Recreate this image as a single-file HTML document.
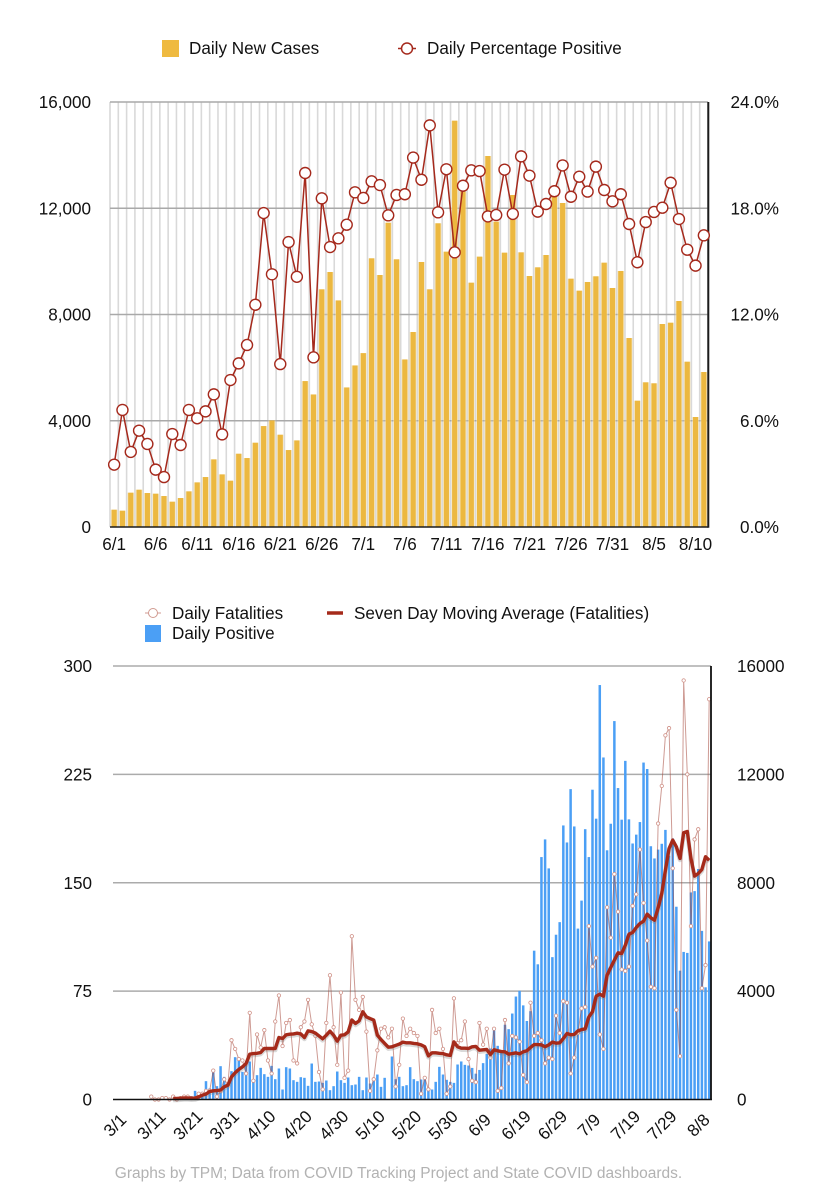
<!DOCTYPE html>
<html>
<head>
<meta charset="utf-8">
<title>COVID charts</title>
<style>
html,body{margin:0;padding:0;background:#fff;}
svg{display:block;font-family:"Liberation Sans",sans-serif;}
</style>
</head>
<body>
<svg id="chart" xmlns="http://www.w3.org/2000/svg" width="834" height="1200" viewBox="0 0 834 1200">
  <rect x="0" y="0" width="834" height="1200" fill="#ffffff"/>
  <g id="top-chart"></g>
  <g id="bottom-chart"></g>

  <g>
    <rect x="162" y="40" width="17" height="17" fill="#efba40"/>
    <text x="189" y="54" font-size="17.1" fill="#111">Daily New Cases</text>
    <line x1="398" y1="48.500" x2="416" y2="48.500" stroke="#a5291c" stroke-width="1.5"/>
    <circle cx="407" cy="48.500" r="5.500" fill="#fff" stroke="#a5291c" stroke-width="1.500"/>
    <text x="427" y="54" font-size="17.1" fill="#111">Daily Percentage Positive</text>
  </g>

  <g>
    <line x1="145" y1="613" x2="161" y2="613" stroke="#d09a90" stroke-width="1"/>
    <circle cx="153" cy="613" r="4.500" fill="#fff" stroke="#d09a90" stroke-width="1"/>
    <text x="172" y="619" font-size="17.1" fill="#111">Daily Fatalities</text>
    <rect x="145" y="625" width="16" height="17" fill="#4b9ff5"/>
    <text x="172" y="639" font-size="17.1" fill="#111">Daily Positive</text>
    <line x1="327" y1="613" x2="343" y2="613" stroke="#a52a1a" stroke-width="3.500"/>
    <text x="354" y="619" font-size="17.1" fill="#111">Seven Day Moving Average (Fatalities)</text>
  </g>

  <text x="398.500" y="1178" font-size="15.500" fill="#b2b2b2" text-anchor="middle">Graphs by TPM; Data from COVID Tracking Project and State COVID dashboards.</text>
</svg>

<script>
const topDates = ['6/1','6/2','6/3','6/4','6/5','6/6','6/7','6/8','6/9','6/10','6/11','6/12','6/13','6/14','6/15','6/16','6/17','6/18','6/19','6/20','6/21','6/22','6/23','6/24','6/25','6/26','6/27','6/28','6/29','6/30','7/1','7/2','7/3','7/4','7/5','7/6','7/7','7/8','7/9','7/10','7/11','7/12','7/13','7/14','7/15','7/16','7/17','7/18','7/19','7/20','7/21','7/22','7/23','7/24','7/25','7/26','7/27','7/28','7/29','7/30','7/31','8/1','8/2','8/3','8/4','8/5','8/6','8/7','8/8','8/9','8/10','8/11'];
const topCases = [652,614,1292,1404,1279,1254,1166,953,1091,1342,1680,1881,2546,1981,1743,2759,2596,3173,3800,4013,3474,2897,3260,5493,4990,8948,9600,8530,5254,6082,6546,10115,9487,11455,10078,6308,7341,9977,8948,11434,10365,15297,12624,9198,10178,13967,11496,10328,12499,10340,9449,9776,10240,12436,12198,9348,8897,9224,9438,9951,8998,9638,7115,4755,5447,5410,7642,7691,8508,6223,4141,5835];
const topPercent = [3.52,6.61,4.24,5.44,4.69,3.24,2.82,5.25,4.63,6.61,6.14,6.53,7.49,5.23,8.30,9.24,10.28,12.55,17.73,14.27,9.2,16.09,14.13,19.99,9.58,18.56,15.81,16.3,17.07,18.9,18.58,19.52,19.31,17.6,18.75,18.79,20.86,19.61,22.68,17.77,20.2,15.51,19.27,20.14,20.1,17.54,17.62,20.18,17.68,20.93,19.84,17.81,18.24,18.96,20.42,18.65,19.78,18.94,20.35,19.03,18.39,18.79,17.11,14.95,17.22,17.79,18.03,19.44,17.39,15.66,14.76,16.47];
const topLeftTicks = [0,4000,8000,12000,16000];
const topLeftTickLabels = ['0','4,000','8,000','12,000','16,000'];
const topRightTicks = [0,6,12,18,24];
const topRightTickLabels = ['0.0%','6.0%','12.0%','18.0%','24.0%'];
const topXTickLabels = ['6/1','6/6','6/11','6/16','6/21','6/26','7/1','7/6','7/11','7/16','7/21','7/26','7/31','8/5','8/10'];

const bottomDates = ['3/1','3/2','3/3','3/4','3/5','3/6','3/7','3/8','3/9','3/10','3/11','3/12','3/13','3/14','3/15','3/16','3/17','3/18','3/19','3/20','3/21','3/22','3/23','3/24','3/25','3/26','3/27','3/28','3/29','3/30','3/31','4/1','4/2','4/3','4/4','4/5','4/6','4/7','4/8','4/9','4/10','4/11','4/12','4/13','4/14','4/15','4/16','4/17','4/18','4/19','4/20','4/21','4/22','4/23','4/24','4/25','4/26','4/27','4/28','4/29','4/30','5/1','5/2','5/3','5/4','5/5','5/6','5/7','5/8','5/9','5/10','5/11','5/12','5/13','5/14','5/15','5/16','5/17','5/18','5/19','5/20','5/21','5/22','5/23','5/24','5/25','5/26','5/27','5/28','5/29','5/30','5/31','6/1','6/2','6/3','6/4','6/5','6/6','6/7','6/8','6/9','6/10','6/11','6/12','6/13','6/14','6/15','6/16','6/17','6/18','6/19','6/20','6/21','6/22','6/23','6/24','6/25','6/26','6/27','6/28','6/29','6/30','7/1','7/2','7/3','7/4','7/5','7/6','7/7','7/8','7/9','7/10','7/11','7/12','7/13','7/14','7/15','7/16','7/17','7/18','7/19','7/20','7/21','7/22','7/23','7/24','7/25','7/26','7/27','7/28','7/29','7/30','7/31','8/1','8/2','8/3','8/4','8/5','8/6','8/7','8/8','8/9','8/10','8/11'];
const bottomPositive = [0,0,0,0,0,0,0,0,0,0,0,0,0,0,0,0,0,0,40,60,100,130,320,220,280,677,406,996,492,1230,836,590,1045,1562,1488,1020,1328,1402,713,898,1168,935,836,1242,750,1144,369,1193,1144,713,652,824,800,504,1328,652,664,615,701,344,492,1033,713,615,812,529,553,836,344,812,590,738,922,467,800,0,1587,750,836,492,529,1193,750,676,738,775,406,369,652,1205,922,726,652,614,1292,1404,1279,1254,1166,953,1091,1342,1680,1881,2546,1981,1743,2759,2596,3173,3800,4013,3474,2897,3260,5493,4990,8948,9600,8530,5254,6082,6546,10115,9487,11455,10078,6308,7341,9977,8948,11434,10365,15297,12624,9198,10178,13967,11496,10328,12499,10340,9449,9776,10240,12436,12198,9348,8897,9224,9438,9951,8998,9638,7115,4755,5447,5410,7642,7691,8508,6223,4141,5835];
const bottomFatalities = [null,null,null,null,null,null,null,null,null,null,2,0,0,1,1,0,2,0,1,2,2,1,1,4,4,6,6,20,2,6,14,10,41,35,28,27,18,60,13,45,36,48,27,18,54,72,37,53,55,27,25,50,54,69,52,44,19,7,53,86,50,24,74,15,20,113,69,62,71,47,6,14,34,49,50,43,49,9,24,56,44,49,46,44,4,15,7,62,46,49,35,4,9,70,39,41,54,28,13,12,53,38,49,29,49,6,8,55,25,44,43,40,17,12,67,44,46,41,25,29,28,58,46,68,67,18,29,46,63,64,120,92,98,45,35,133,112,156,130,90,89,92,134,142,173,136,110,78,77,191,217,252,257,160,62,30,290,225,120,180,187,77,93,277];
const bottomAverage = [null,null,null,null,null,null,null,null,null,null,null,null,null,null,null,null,0.7,0.7,0.9,1.1,1.1,0.9,1,1.8,3,3.7,5.5,6,6.2,6.5,8.8,9.9,15.7,18.5,20.8,22.6,24.9,31.4,31.8,32,32.5,35.3,35.3,35.3,35.3,42.9,42.2,44.8,45.2,45.4,45.9,45.4,42.9,47.5,47,46,44,42,44.5,47.3,44.5,40.4,44.5,44.8,46.8,55,52.6,54.4,60.7,57.2,56,55,44.5,41.5,38.8,36.2,36.5,37.4,38.3,39.7,39.2,39.2,38.8,38.5,37.8,36.5,30.2,32.3,32.3,32,31.8,30.9,30.5,39.9,36.5,35.5,35.5,35.3,36.5,36.7,34.1,34.4,34.6,31.1,34.4,33.7,33.2,33,31.4,31.8,32.3,31.6,33,33.7,36,38,38,37.8,36.5,37.8,39.7,39,39.2,42.2,45.7,44.8,45,47.5,48.4,48.9,57.2,60.7,71.5,72.9,71.5,86,91.4,96.4,101.5,101,106.8,114.4,115.6,119,121.8,123.4,128.3,125.7,124.1,132.6,142.6,158.7,173.7,179.5,174.9,166.8,184.6,185.5,166.8,154.6,156.4,159.2,168,165.6];
const bottomLeftTicks = [0,75,150,225,300];
const bottomLeftTickLabels = ['0','75','150','225','300'];
const bottomRightTicks = [0,4000,8000,12000,16000];
const bottomRightTickLabels = ['0','4000','8000','12000','16000'];
const bottomXTickLabels = ['3/1','3/11','3/21','3/31','4/10','4/20','4/30','5/10','5/20','5/30','6/9','6/19','6/29','7/9','7/19','7/29','8/8'];

const NS = 'http://www.w3.org/2000/svg';
function make(parent, tag, attrs, text) {
  const node = document.createElementNS(NS, tag);
  for (const k in attrs) node.setAttribute(k, attrs[k]);
  if (text !== undefined) node.textContent = text;
  parent.appendChild(node);
  return node;
}
function linePath(values, xf, yf) {
  let d = '';
  let open = false;
  values.forEach(function (v, i) {
    if (v === null) { open = false; return; }
    d += (open ? 'L' : 'M') + xf(i).toFixed(2) + ' ' + yf(v).toFixed(2);
    open = true;
  });
  return d;
}

/* ---------- top chart ---------- */
(function () {
  const g = document.getElementById('top-chart');
  const left = 110, right = 708, top = 102, bottom = 527;
  const maxCases = 16000, maxPct = 24;
  const band = (right - left) / topDates.length;
  const x = function (i) { return left + (i + 0.5) * band; };
  const yCases = function (v) { return bottom - (v / maxCases) * (bottom - top); };
  const yPct = function (v) { return bottom - (v / maxPct) * (bottom - top); };

  for (let i = 0; i <= topDates.length; i++) {
    const gl = make(g, 'line', { x1: left + i * band, x2: left + i * band, y1: top, y2: bottom, stroke: '#d9d9d9', 'stroke-width': 1.6 });
    
    
  }
  topLeftTicks.forEach(function (t, k) {
    if (t !== 0) {
      const gl = make(g, 'line', { x1: left, x2: right, y1: yCases(t), y2: yCases(t), stroke: '#a9a9a9', 'stroke-width': 1.6 });
      
      
    }
    const lab = make(g, 'text', { x: 91, y: yCases(t) + 6, 'font-size': 17.1, 'text-anchor': 'end', fill: '#111' }, topLeftTickLabels[k]);
    
    
  });
  topRightTicks.forEach(function (t, k) {
    const lab = make(g, 'text', { x: 779, y: yPct(t) + 6, 'font-size': 17.1, 'text-anchor': 'end', fill: '#111' }, topRightTickLabels[k]);
    
    
  });
  topCases.forEach(function (v, i) {
    const h = bottom - yCases(v);
    const halo = make(g, 'rect', { x: x(i) - 3.6, y: yCases(v), width: 7.2, height: h, fill: '#f0dfb8', opacity: 0.6 });
    
    
    const bar = make(g, 'rect', { x: x(i) - 2.6, y: yCases(v), width: 5.2, height: h, fill: '#ecb840' });
    
    
  });
  const base = make(g, 'line', { x1: left, x2: right, y1: bottom, y2: bottom, stroke: '#1c1c1c', 'stroke-width': 1.5 });
  
  
  const ra = make(g, 'line', { x1: right + 0.3, x2: right + 0.3, y1: top, y2: bottom + 0.7, stroke: '#1c1c1c', 'stroke-width': 2 });
  
  

  const line = make(g, 'path', { d: linePath(topPercent, x, yPct), fill: 'none', stroke: '#a5291c', 'stroke-width': 1.5, 'stroke-linejoin': 'round' });
  
  
  topPercent.forEach(function (v, i) {
    const c = make(g, 'circle', { cx: x(i), cy: yPct(v), r: 5.5, fill: '#fff', stroke: '#a5291c', 'stroke-width': 1.4 });
    
    
  });
  topXTickLabels.forEach(function (label) {
    const i = topDates.indexOf(label);
    const lab = make(g, 'text', { x: x(i), y: 550, 'font-size': 17.1, 'text-anchor': 'middle', fill: '#111' }, label);
    
    
  });
})();

/* ---------- bottom chart ---------- */
(function () {
  const g = document.getElementById('bottom-chart');
  const left = 113, right = 711, top = 666, bottom = 1099.5;
  const maxFatal = 300, maxPos = 16000;
  const band = (right - left) / bottomDates.length;
  const x = function (i) { return left + (i + 0.5) * band; };
  const yFatal = function (v) { return bottom - (v / maxFatal) * (bottom - top); };
  const yPos = function (v) { return bottom - (v / maxPos) * (bottom - top); };

  bottomLeftTicks.forEach(function (t, k) {
    if (t !== 0) {
      const gl = make(g, 'line', { x1: left, x2: right, y1: yFatal(t), y2: yFatal(t), stroke: '#ababab', 'stroke-width': 1.6 });
      
      
    }
    const lab = make(g, 'text', { x: 92, y: yFatal(t) + 6, 'font-size': 17.1, 'text-anchor': 'end', fill: '#111' }, bottomLeftTickLabels[k]);
    
    
  });
  bottomRightTicks.forEach(function (t, k) {
    const lab = make(g, 'text', { x: 737, y: yPos(t) + 6, 'font-size': 17.1, 'text-anchor': 'start', fill: '#111' }, bottomRightTickLabels[k]);
    
    
  });
  bottomPositive.forEach(function (v, i) {
    if (v <= 0) return;
    const bar = make(g, 'rect', { x: x(i) - 1.25, y: yPos(v), width: 2.5, height: bottom - yPos(v), fill: '#4b9ff5' });
    
    
  });
  const fl = make(g, 'path', { d: linePath(bottomFatalities, x, yFatal), fill: 'none', stroke: '#a5483c', 'stroke-opacity': 0.55, 'stroke-width': 1, 'stroke-linejoin': 'round' });
  
  
  bottomFatalities.forEach(function (v, i) {
    if (v === null) return;
    const c = make(g, 'circle', { cx: x(i), cy: yFatal(v), r: 1.7, fill: '#fff', stroke: '#cf8f85', 'stroke-width': 0.8 });
    
    
  });
  const shadow = make(g, 'path', { d: linePath(bottomAverage, x, function (v) { return yFatal(v) + 1.5; }), fill: 'none', stroke: '#777', 'stroke-opacity': 0.28, 'stroke-width': 4.5, 'stroke-linejoin': 'round' });
  
  
  const avg = make(g, 'path', { d: linePath(bottomAverage, x, yFatal), fill: 'none', stroke: '#a52a1a', 'stroke-width': 3.4, 'stroke-linejoin': 'round' });
  
  

  const base = make(g, 'line', { x1: left, x2: right + 1, y1: bottom, y2: bottom, stroke: '#111', 'stroke-width': 1.6 });
  
  
  const ra = make(g, 'line', { x1: right, x2: right, y1: top, y2: bottom, stroke: '#111', 'stroke-width': 1.8 });
  
  

  bottomXTickLabels.forEach(function (label) {
    const i = bottomDates.indexOf(label);
    const cx = x(i), cy = 1125;
    const lab = make(g, 'text', { x: cx, y: cy + 6, 'font-size': 17.1, 'text-anchor': 'middle', fill: '#111', transform: 'rotate(-45 ' + cx.toFixed(2) + ' ' + cy + ')' }, label);
    
    
  });
})();
</script>
</body>
</html>
